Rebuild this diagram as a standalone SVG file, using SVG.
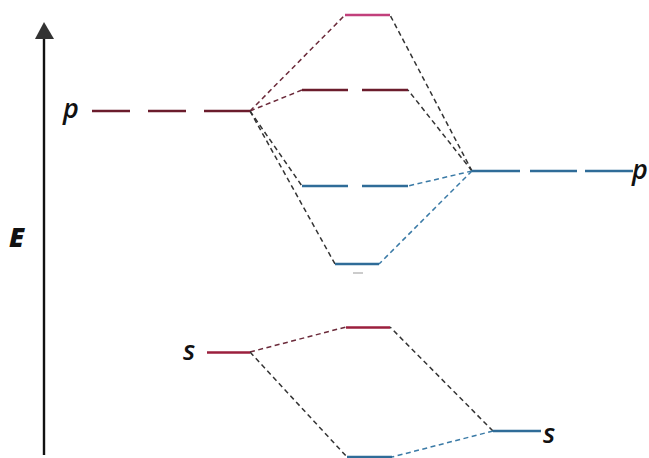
<svg xmlns="http://www.w3.org/2000/svg" width="649" height="458" viewBox="0 0 649 458">
<style>
.lvl{fill:none;stroke-width:2.6;stroke-linecap:butt}
.red{stroke:#6b1c2c}
.pink{stroke:#c2407c}
.crim{stroke:#9b1f3d}
.blue{stroke:#2f6c98}
.con{fill:none;stroke-width:1.5;stroke-dasharray:5 3.5}
.cr{stroke:#6b2a3a}
.ck{stroke:#333}
.cb{stroke:#3a7aa6}
.lab{font-family:"Open Sans","Liberation Sans",Arial,sans-serif;font-style:italic;font-weight:600;fill:#111}
.big{font-weight:800}
</style>
<rect width="649" height="458" fill="#fff"/>
<g id="axis">
<line x1="44" y1="455" x2="44" y2="36" stroke="#111" stroke-width="2.4"/>
<polygon points="44,22 35,39 54,39" fill="#333"/>
<text class="lab big" x="9" y="247" font-size="27">E</text>
</g>
<g id="connectors">
<line class="con cr" x1="250" y1="111" x2="345" y2="15"/>
<line class="con cr" x1="250" y1="111" x2="302" y2="90"/>
<line class="con ck" x1="250" y1="111" x2="302" y2="186"/>
<line class="con ck" x1="250" y1="111" x2="335" y2="264"/>
<line class="con ck" x1="472" y1="171" x2="390" y2="15"/>
<line class="con ck" x1="472" y1="171" x2="408" y2="90"/>
<line class="con cb" x1="472" y1="171" x2="408" y2="186"/>
<line class="con cb" x1="472" y1="171" x2="379" y2="264"/>
<line class="con cr" x1="250" y1="352" x2="346" y2="327"/>
<line class="con ck" x1="250" y1="352" x2="347" y2="457"/>
<line class="con ck" x1="493" y1="431" x2="390" y2="327"/>
<line class="con cb" x1="493" y1="431" x2="392" y2="457"/>
</g>
<g id="p-left">
<path class="lvl red" d="M92 111H130M148 111H186M204 111H250"/>
<text class="lab" x="63" y="118" font-size="27">p</text>
</g>
<g id="p-right">
<path class="lvl blue" d="M472 171H520M530 171H577M585 171H633"/>
<text class="lab" x="632" y="179" font-size="27">p</text>
</g>
<g id="mo-sigma-star-p">
<path class="lvl pink" d="M345 15H390"/>
</g>
<g id="mo-pi-star">
<path class="lvl red" d="M302 90H348M362 90H408"/>
</g>
<g id="mo-pi">
<path class="lvl blue" d="M302 186H348M362 186H408"/>
</g>
<g id="mo-sigma-p">
<path class="lvl blue" d="M335 264H379"/>
<path d="M353 273H363" stroke="#bbb" stroke-width="1.5"/>
</g>
<g id="s-left">
<path class="lvl crim" d="M207 352.5H250"/>
<text class="lab" x="183" y="360" font-size="27">s</text>
</g>
<g id="s-right">
<path class="lvl blue" d="M493 431H541"/>
<text class="lab" x="543" y="443" font-size="27">s</text>
</g>
<g id="mo-sigma-star-s">
<path class="lvl crim" d="M346 327.5H390"/>
</g>
<g id="mo-sigma-s">
<path class="lvl blue" d="M347 457H392"/>
</g>
</svg>
